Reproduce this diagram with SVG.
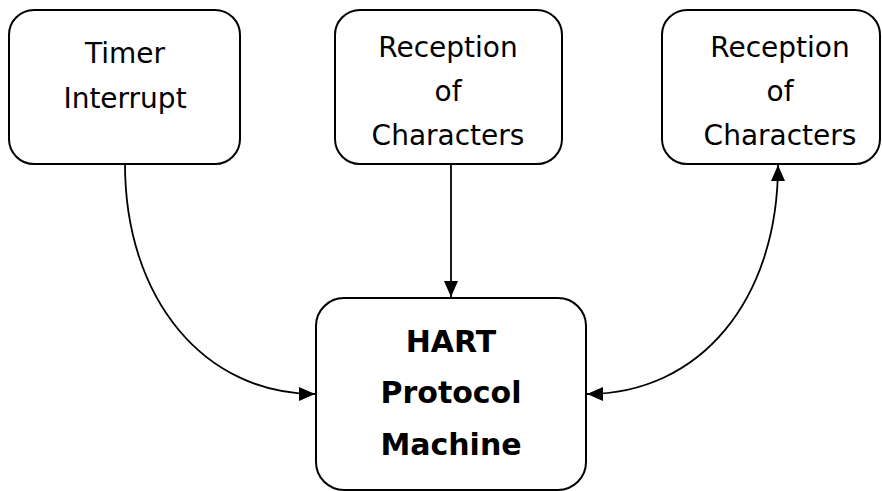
<svg xmlns="http://www.w3.org/2000/svg" width="882" height="491" viewBox="0 0 882 491">
<style>
.box{fill:#fff;stroke:#000;stroke-width:2}
.t{font-family:"DejaVu Sans","Open Sans",sans-serif;font-size:28px;fill:#000;text-anchor:middle}
.b{font-family:"DejaVu Sans","Open Sans",sans-serif;font-size:30px;font-weight:bold;fill:#000;text-anchor:middle}
.c{fill:none;stroke:#000;stroke-width:1.8}
</style>
<defs>
<marker id="ahl" viewBox="0 0 16 14" refX="16" refY="7" markerWidth="16" markerHeight="14" markerUnits="userSpaceOnUse" orient="auto-start-reverse">
<path d="M0,0 L16,7 L0,14 Z" fill="#000"/>
</marker>
</defs>
<g id="connectors">
<path class="c" d="M125,164 C125,300 205,394 315,394" marker-end="url(#ahl)"/>
<path class="c" d="M451,164 L451,297" marker-end="url(#ahl)"/>
<path class="c" d="M587,394 C700,394 778,300 778,165" marker-start="url(#ahl)" marker-end="url(#ahl)"/>
</g>
<g id="timer">
<rect class="box" x="9" y="10" width="231" height="154" rx="25"/>
<text class="t" x="125" y="63">Timer</text>
<text class="t" x="125" y="108">Interrupt</text>
</g>
<g id="reception1">
<rect class="box" x="335" y="10" width="227" height="154" rx="25"/>
<text class="t" x="448" y="57">Reception</text>
<text class="t" x="448" y="101">of</text>
<text class="t" x="448" y="145">Characters</text>
</g>
<g id="reception2">
<rect class="box" x="662" y="10" width="218" height="154" rx="25"/>
<text class="t" x="780" y="57">Reception</text>
<text class="t" x="780" y="101">of</text>
<text class="t" x="780" y="145">Characters</text>
</g>
<g id="hart">
<rect class="box" x="316" y="298" width="270" height="192" rx="28"/>
<text class="b" x="451" y="352">HART</text>
<text class="b" x="451" y="403">Protocol</text>
<text class="b" x="451" y="455">Machine</text>
</g>
</svg>
